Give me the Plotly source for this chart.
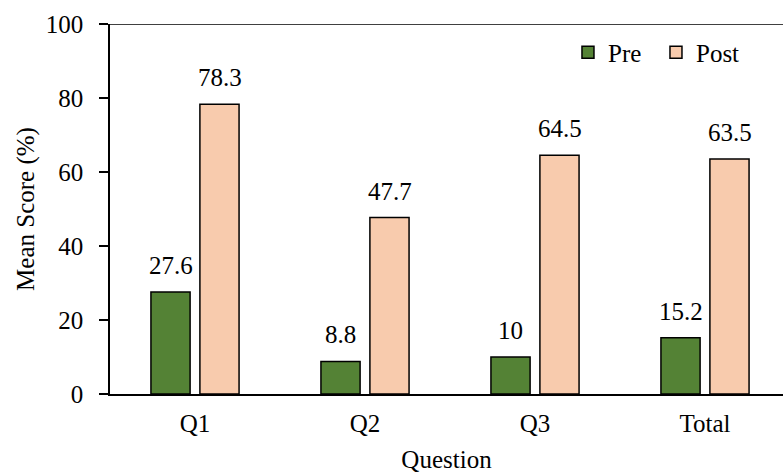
import plotly.graph_objects as go

categories = ["Q1", "Q2", "Q3", "Total"]
pre_values = [27.6, 8.8, 10, 15.2]
post_values = [78.3, 47.7, 64.5, 63.5]
pre_labels = ["27.6", "8.8", "10", "15.2"]
post_labels = ["78.3", "47.7", "64.5", "63.5"]

FONT = "Times New Roman, Liberation Serif, serif"
FS = 25

fig = go.Figure()
fig.add_trace(go.Bar(name="Pre", x=categories, y=pre_values,
                     marker=dict(color="#548235", line=dict(color="black", width=1.5))))
fig.add_trace(go.Bar(name="Post", x=categories, y=post_values,
                     marker=dict(color="#F8CBAD", line=dict(color="black", width=1.5))))

for c, v, t in zip(categories, pre_values, pre_labels):
    fig.add_annotation(x=c, y=v, text=t, showarrow=False, xshift=-24.5, yshift=11,
                       yanchor="bottom", font=dict(family=FONT, size=FS, color="black"))
for c, v, t in zip(categories, post_values, post_labels):
    fig.add_annotation(x=c, y=v, text=t, showarrow=False, xshift=24.5, yshift=11,
                       yanchor="bottom", font=dict(family=FONT, size=FS, color="black"))

fig.add_shape(type="line", xref="paper", yref="y", x0=0, x1=1, y0=100, y1=100,
              line=dict(color="black", width=1.5))

fig.update_layout(
    width=783, height=473,
    margin=dict(l=110, r=0, t=24, b=79),
    paper_bgcolor="white", plot_bgcolor="white",
    barmode="group", bargap=0.424, bargroupgap=0.2,
    font=dict(family=FONT, size=FS, color="black"),
    legend=dict(orientation="h", x=0.6805, y=0.985, xanchor="left", yanchor="top",
                font=dict(family=FONT, size=FS), bgcolor="rgba(0,0,0,0)",
                itemwidth=30, tracegroupgap=0, entrywidth=43, entrywidthmode="pixels"),
    xaxis=dict(range=[-0.5, -0.5 + 673 / 170], showline=True, linecolor="black", linewidth=1.5,
               ticks="", showgrid=False, tickfont=dict(family=FONT, size=FS),
               ticklabelstandoff=6, automargin=False,
               title=dict(text="Question", font=dict(family=FONT, size=FS), standoff=35)),
    yaxis=dict(range=[0, 100], dtick=20, showline=True, linecolor="black", linewidth=1.5,
               ticks="outside", ticklen=9, tickwidth=1.5, tickcolor="black",
               ticklabelstandoff=11, automargin=False,
               showgrid=False, zeroline=False, tickfont=dict(family=FONT, size=FS),
               title=dict(text="Mean Score (%)", font=dict(family=FONT, size=FS), standoff=4)),
)

fig.write_html("out.html")
